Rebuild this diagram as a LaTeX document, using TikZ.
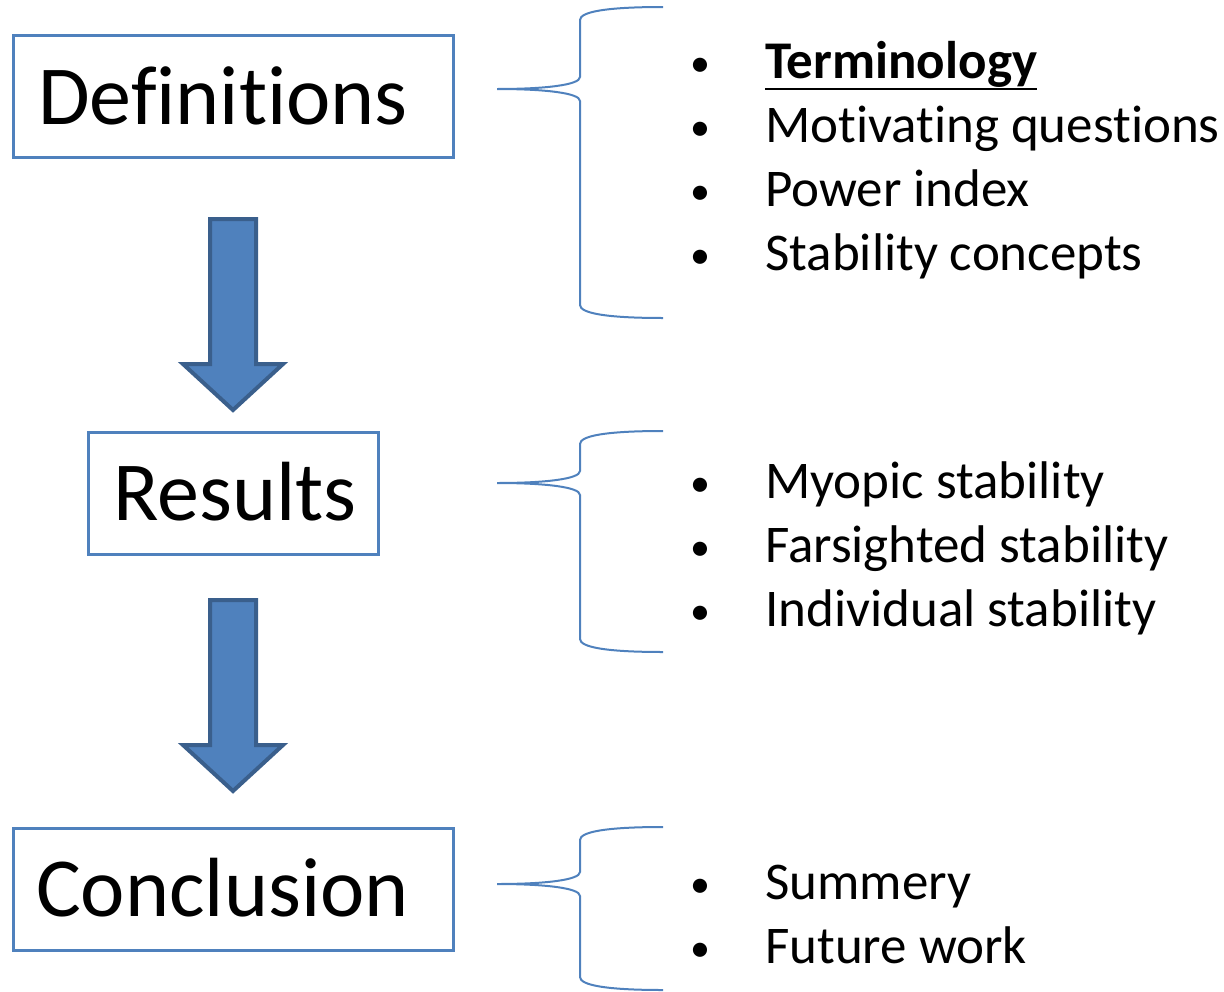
\documentclass[tikz,border=0pt]{standalone}
\usepackage{fontspec}
\setmainfont{Carlito}[RawFeature={-liga}]
\usetikzlibrary{calc}
\definecolor{boxblue}{HTML}{4F81BD}
\definecolor{arrowedge}{HTML}{3A5F8C}

% curly bracket opening to the right: #1 = top end, #2 = tip, #3 = bottom end (y values)
\newcommand\curlybracket[3]{%
  \draw[bracket] (663,#1) .. controls (605,#1) and (580,#1+5) .. (580,#1+13)
    -- (580,#2-12) .. controls (580,#2-4) and (545,#2) .. (497,#2)
    .. controls (545,#2) and (580,#2+4) .. (580,#2+12)
    -- (580,#3-13) .. controls (580,#3-5) and (605,#3) .. (663,#3);}

% block arrow pointing down: #1 = top of shaft, #2 = base of head, #3 = tip
\newcommand\blockarrowdown[3]{%
  \draw[flow] (210,#1) -- (256,#1) -- (256,#2) -- (283,#2) -- (233,#3)
    -- (183,#2) -- (210,#2) -- cycle;}

\begin{document}
\begin{tikzpicture}[x=1pt,y=-1pt,
  stage/.style={draw=boxblue,line width=3pt,inner sep=0pt},
  heading/.style={anchor=base west,inner sep=0pt,font=\fontsize{84}{84}\selectfont},
  item/.style={anchor=base west,inner sep=0pt,font=\fontsize{53}{64}\selectfont},
  bullet/.style={anchor=base west,inner sep=0pt,font=\fontsize{40}{48}\selectfont},
  bracket/.style={draw=boxblue,line width=2pt},
  flow/.style={fill=boxblue,draw=arrowedge,line width=4pt,line join=miter}]
\useasboundingbox (0,0) rectangle (1224,991);

% stage boxes
\node[stage,minimum width=440pt,minimum height=122pt] (defbox) at (233,96) {};
\node[stage,minimum width=290pt,minimum height=122pt] (resbox) at (233,493.5) {};
\node[stage,minimum width=440pt,minimum height=122pt] (conbox) at (233,889) {};

\node[heading] (deftext) at (38,124) {Definitions};
\node[heading] (restext) at (113,520) {Results};
\node[heading] (context) at (36,916) {Conclusion};

% arrows between stages
\blockarrowdown{219}{364}{410}
\blockarrowdown{600}{745}{791}

% brackets
\curlybracket{7}{89}{318}
\curlybracket{431}{483}{652}
\curlybracket{827}{884}{990}

% topic lists
\foreach \y/\n in {78/b1,142/b2,206/b3,270/b4,498/b5,562/b6,626/b7,899/b8,963/b9}
  \node[bullet] (\n) at (690,\y-2) {•};

\node[item,font=\fontsize{53}{64}\selectfont\bfseries] (term) at (765,78) {Terminology};
\draw[line width=2.5pt] ($(term.base west)+(0,11)$) -- ($(term.base east)+(0,11)$);
\node[item] (motiv) at (765,142) {Motivating questions};
\node[item] (power) at (765,206) {Power index};
\node[item] (stabc) at (765,270) {Stability concepts};

\node[item] (myop) at (765,498) {Myopic stability};
\node[item] (farsi) at (765,562) {Farsighted stability};
\node[item] (indiv) at (765,626) {Individual stability};

\node[item] (summ) at (765,899) {Summery};
\node[item] (futw) at (765,963) {Future work};
\end{tikzpicture}
\end{document}
